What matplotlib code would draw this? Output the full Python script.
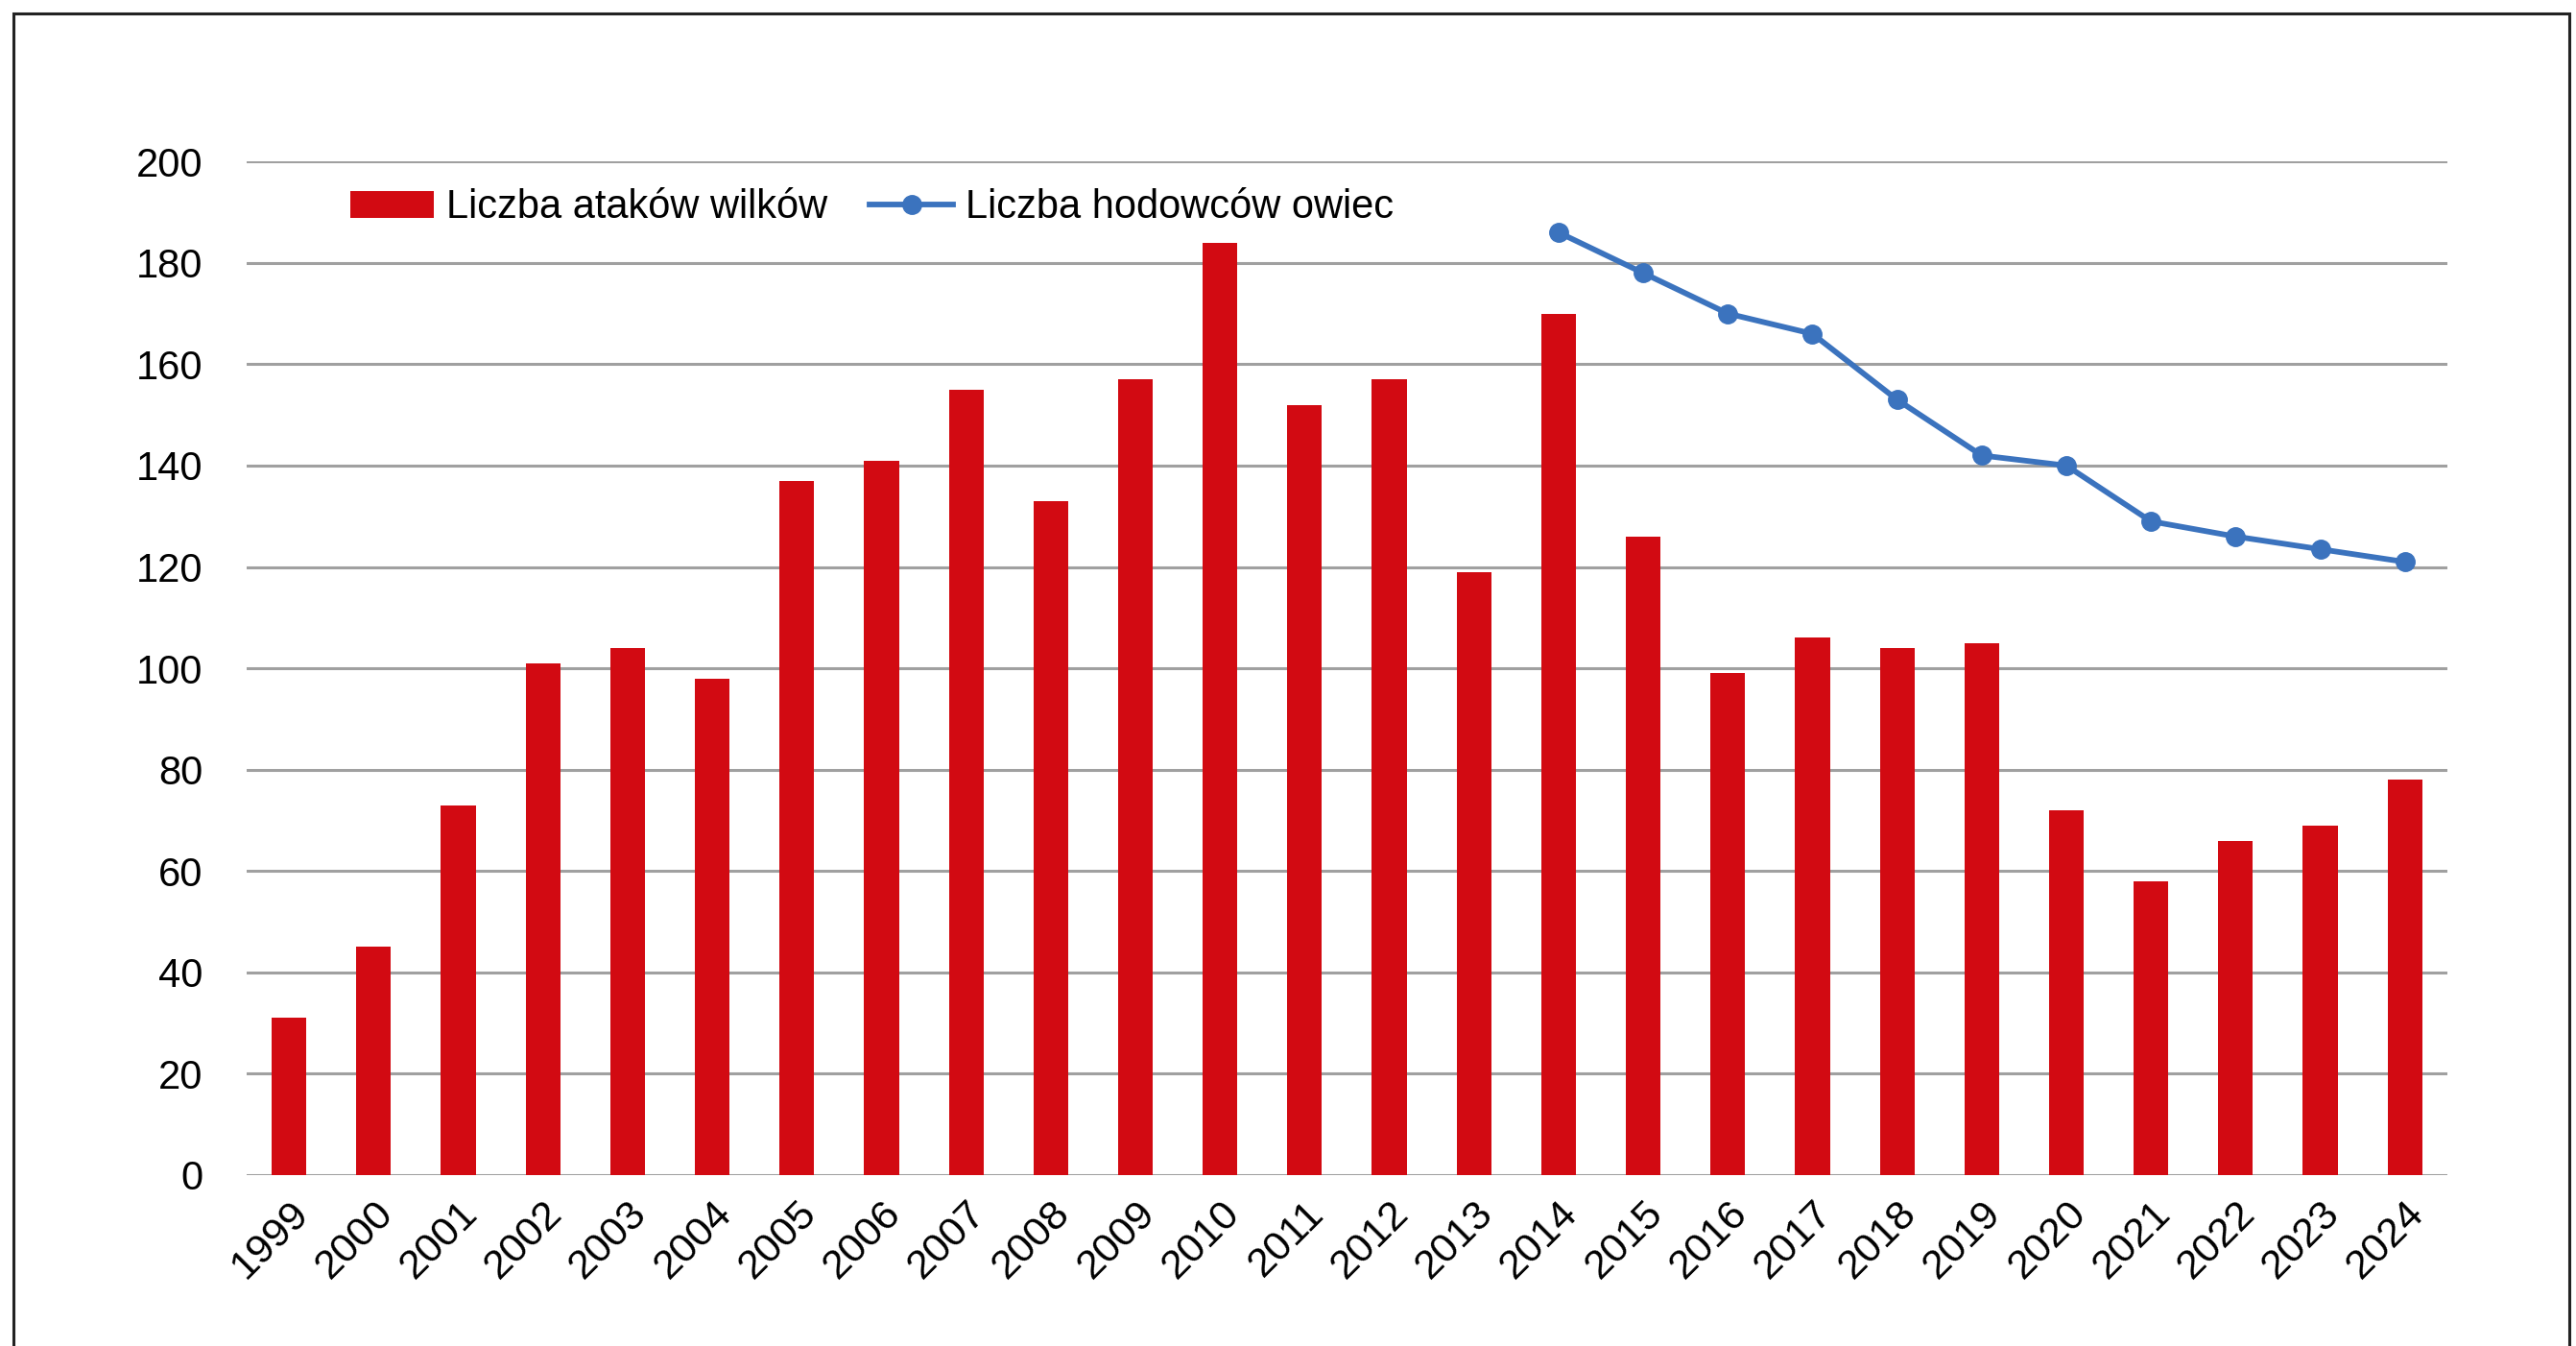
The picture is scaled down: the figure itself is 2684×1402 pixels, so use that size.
import numpy as np
import matplotlib
matplotlib.use('Agg')
import matplotlib.pyplot as plt
from matplotlib.patches import Rectangle

plt.rcParams['font.family'] = ['Liberation Sans', 'DejaVu Sans']

# data
years = list(range(1999, 2025))
attacks = [31, 45, 73, 101, 104, 98, 137, 141, 155, 133, 157, 184, 152,
           157, 119, 170, 126, 99, 106, 104, 105, 72, 58, 66, 69, 78]
breeder_years = list(range(2014, 2025))
breeders = [186, 178, 170, 166, 153, 142, 140, 129, 126, 123.5, 121]

bar_color = '#D20A12'
line_color = '#3B73BE'
grid_color = '#A0A0A0'

fig = plt.figure(figsize=(26.84, 14.02), dpi=100)
ax = fig.add_axes([0.0958, 0.127, 0.8542, 0.753])

x = np.arange(len(years))
bars = ax.bar(x, attacks, width=0.41, color=bar_color, label='Liczba ataków wilków', zorder=3)
bx = [years.index(y) for y in breeder_years]
line, = ax.plot(bx, breeders, color=line_color, lw=4.2, marker='o', markersize=14,
                label='Liczba hodowców owiec', zorder=4)

ax.set_xlim(-0.5, len(years) - 0.5)
ax.set_ylim(0, 200)
ax.set_yticks(range(0, 201, 20))
ax.yaxis.grid(True, color=grid_color, lw=2.2, zorder=0)
ax.set_axisbelow(True)
ax.tick_params(axis='both', length=0, labelsize=30)
ax.tick_params(axis='y', pad=33)
ax.tick_params(axis='x', labelsize=31, pad=14)
ax.set_xticks(x)
ax.set_xticklabels([str(y) for y in years], rotation=45, ha='right',
                   rotation_mode='anchor')
for s in ax.spines.values():
    s.set_visible(False)

ax.legend([bars, line], [bars.get_label(), line.get_label()],
          loc='center left', bbox_to_anchor=(0.047, 0.9545), ncol=2,
          frameon=False, fontsize=30, handlelength=2.1, handleheight=0.65,
          handletextpad=0.3, columnspacing=1.05, borderpad=0, borderaxespad=0)

# outer frame
fig.patches.append(Rectangle((14 / 2684, -0.05), (2677 - 14) / 2684, 1.05 - 14 / 1402,
                             transform=fig.transFigure, fill=False,
                             edgecolor='#222222', lw=2.2))

fig.savefig('out.png', dpi=100)
